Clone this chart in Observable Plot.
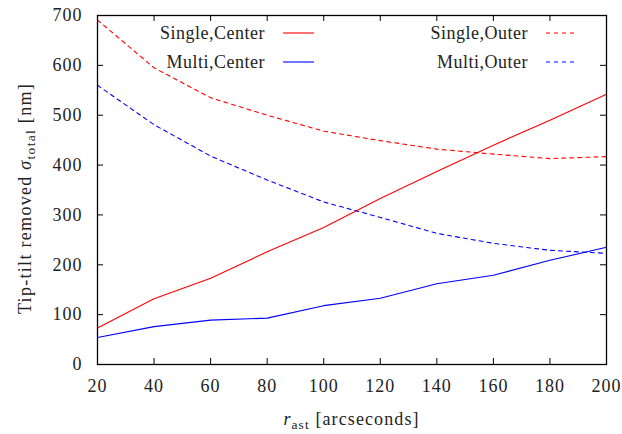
<!DOCTYPE html>
<html>
<head>
<meta charset="utf-8">
<script src="https://cdn.jsdelivr.net/npm/d3@7"></script>
<script src="https://cdn.jsdelivr.net/npm/@observablehq/plot@0.6"></script>
<style>
  html, body { margin: 0; padding: 0; background: #fff; }
  svg text { font-family: "Liberation Serif", serif; }
</style>
</head>
<body>
<div id="chart"></div>
<script>
const rast = [20, 40, 60, 80, 100, 120, 140, 160, 180, 200];
const singleCenter = [73, 132, 173, 226, 275, 333, 387, 440, 490, 542];
const multiCenter  = [54, 76, 89, 93, 118, 133, 162, 179, 209, 235];
const singleOuter  = [691, 595, 535, 500, 468, 449, 432, 422, 413, 417];
const multiOuter   = [560, 481, 418, 370, 326, 295, 263, 243, 229, 223];
const xTicks = [20, 40, 60, 80, 100, 120, 140, 160, 180, 200];
const yTicks = [0, 100, 200, 300, 400, 500, 600, 700];
const seriesNames = ["Single,Center", "Multi,Center", "Single,Outer", "Multi,Outer"];
const seriesColors = ["#ff0000", "#0000ff", "#ff0000", "#0000ff"];
const seriesDash = [null, null, "4,4", "4,4"];

const seriesValues = [singleCenter, multiCenter, singleOuter, multiOuter];
const rows = seriesNames.map((name, i) => rast.map((x, j) => ({series: name, x, y: seriesValues[i][j]})));

const W = 622, H = 434;
const mL = 97, mR = 16, mT = 15, mB = 70;
const pw = W - mL - mR, ph = H - mT - mB;
const fontSize = 18;

const marks = [];
rows.forEach((data, i) => {
  marks.push(Plot.line(data, {x: "x", y: "y", stroke: seriesColors[i], strokeWidth: 1.1, strokeDasharray: seriesDash[i] ?? undefined}));
});
marks.push(
  Plot.tickY(yTicks, {y: d => d, insetRight: pw - 6, stroke: "#000", strokeWidth: 1}),
  Plot.tickY(yTicks, {y: d => d, insetLeft: pw - 6, stroke: "#000", strokeWidth: 1}),
  Plot.tickX(xTicks, {x: d => d, insetTop: ph - 6, stroke: "#000", strokeWidth: 1}),
  Plot.tickX(xTicks, {x: d => d, insetBottom: ph - 6, stroke: "#000", strokeWidth: 1}),
  Plot.frame({stroke: "#000", strokeWidth: 1.3}),
  Plot.axisY({ticks: yTicks, tickSize: 0, tickPadding: 15, label: null, fontSize}),
  Plot.axisX({ticks: xTicks, tickSize: 0, tickPadding: 15, label: null, fontSize})
);

const chart = Plot.plot({
  width: W, height: H,
  marginLeft: mL, marginRight: mR, marginTop: mT, marginBottom: mB,
  style: {fontFamily: "Liberation Serif, serif", fontSize: fontSize + "px", color: "#222", background: "#fff"},
  x: {domain: [20, 200]},
  y: {domain: [0, 700]},
  marks
});
document.getElementById("chart").appendChild(chart);

const svg = d3.select(chart);
svg.selectAll("g[aria-label='y-axis tick label'] text, g[aria-label='x-axis tick label'] text")
  .attr("letter-spacing", "1px");
// Legend
const legend = svg.append("g").attr("font-size", fontSize).attr("fill", "#222").attr("letter-spacing", "0.5px");
const legX = [mL + 168, mL + 431];
const legY = [mT + 18, mT + 47];
seriesNames.forEach((name, i) => {
  const col = Math.floor(i / 2), row = i % 2;
  legend.append("text").attr("x", legX[col]).attr("y", legY[row]).attr("dy", "0.32em").attr("text-anchor", "end").text(name);
  legend.append("line")
    .attr("x1", legX[col] + 18).attr("x2", legX[col] + 49)
    .attr("y1", legY[row]).attr("y2", legY[row])
    .attr("stroke", seriesColors[i]).attr("stroke-width", 1.1)
    .attr("stroke-dasharray", seriesDash[i]);
});

// Axis labels
const yl = svg.append("text")
  .attr("transform", `translate(31,${mT + ph / 2 + 9}) rotate(-90)`)
  .attr("text-anchor", "middle").attr("font-size", fontSize).attr("fill", "#222")
  .attr("letter-spacing", "1.3px");
yl.append("tspan").text("Tip-tilt removed ");
yl.append("tspan").attr("font-style", "italic").text("σ");
yl.append("tspan").attr("font-size", fontSize * 0.75).attr("dy", 4).text("total");
yl.append("tspan").attr("dy", -4).text(" [nm]");

const xl = svg.append("text")
  .attr("x", mL + pw / 2).attr("y", 425)
  .attr("text-anchor", "middle").attr("font-size", fontSize).attr("fill", "#222")
  .attr("letter-spacing", "1.1px");
xl.append("tspan").attr("font-style", "italic").text("r");
xl.append("tspan").attr("font-size", fontSize * 0.75).attr("dy", 4).text("ast");
xl.append("tspan").attr("dy", -4).text(" [arcseconds]");
</script>
</body>
</html>
